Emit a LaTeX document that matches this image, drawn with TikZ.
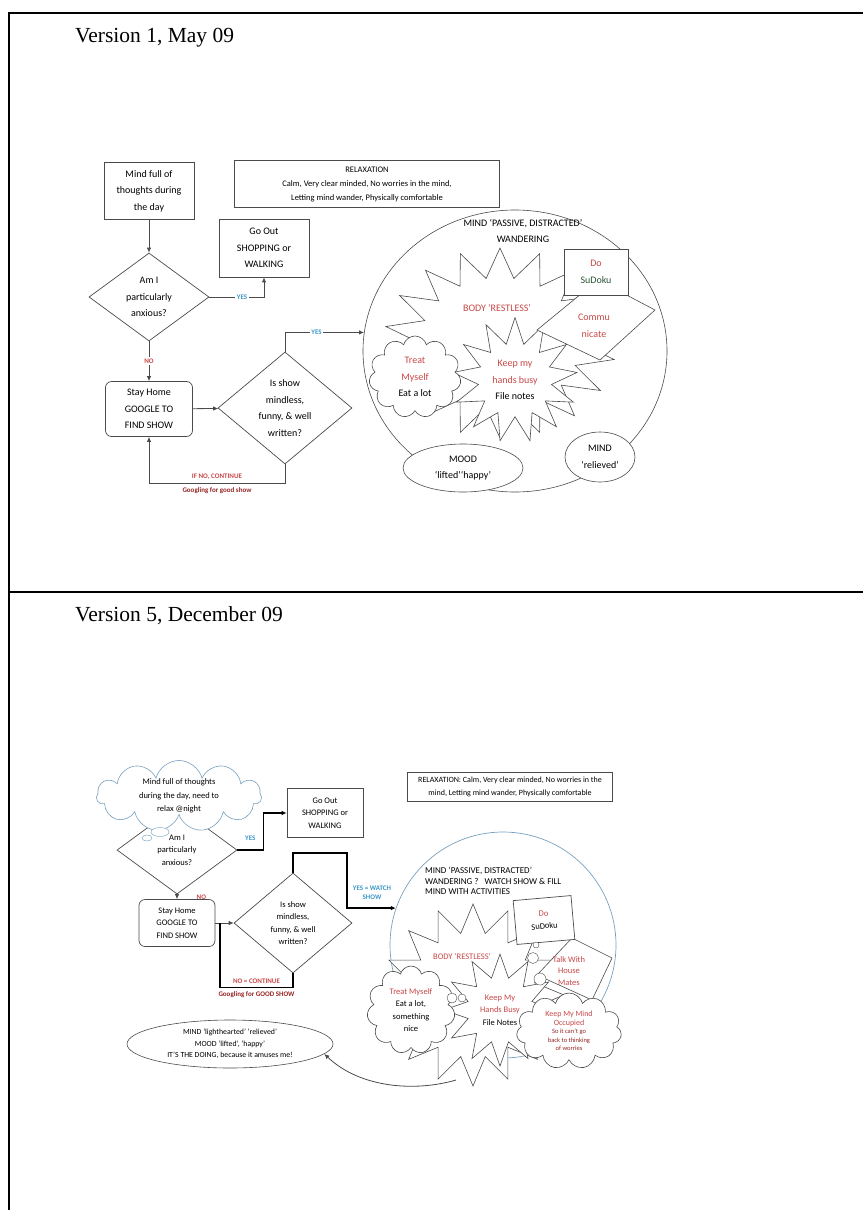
\documentclass[tikz,border=0pt]{standalone}
\usepackage{fontspec}
\setmainfont{Liberation Serif}
\newfontfamily\diafont{Carlito}
\usetikzlibrary{shapes.geometric,shapes.symbols,arrows.meta}

\definecolor{restred}{RGB}{200,72,72}
\definecolor{goodred}{RGB}{150,36,36}
\definecolor{yesblue}{RGB}{60,150,200}
\definecolor{ringblue}{RGB}{120,160,190}
\definecolor{linegray}{RGB}{75,75,75}
\definecolor{sudokugreen}{RGB}{45,85,55}

\newcommand{\onefont}{\diafont\fontsize{10}{16.5}\selectfont}
\newcommand{\fivefont}{\diafont\fontsize{8.5}{12.5}\selectfont}
\newcommand{\tagfont}{\diafont\bfseries\fontsize{7}{9}\selectfont}

\begin{document}
\begin{tikzpicture}[x=1pt,y=-1pt,
    flowbox/.style={draw=linegray, line width=0.7pt, fill=white, align=center, inner sep=1pt},
    roundbox/.style={flowbox, rounded corners=6pt},
    question/.style={draw=linegray, line width=0.7pt, fill=white, diamond, aspect=1.3, align=center, inner sep=0pt},
    puff/.style={draw=linegray, line width=0.6pt, fill=white, cloud, cloud puffs=11, cloud ignores aspect, align=center, inner sep=0pt},
    spiky/.style={draw=linegray, line width=0.6pt, fill=white, star, align=center, inner sep=0pt},
    oval/.style={draw=linegray, line width=0.6pt, fill=white, ellipse, align=center, inner sep=0pt},
    flow/.style={draw=linegray, line width=0.8pt, -{Latex[length=5pt,width=4.5pt]}},
    boldflow/.style={flow, draw=black, line width=1.3pt},
    tag/.style={fill=white, inner sep=1.5pt, font=\tagfont}]

\useasboundingbox (0,0) rectangle (863,1210);
% table frame
\draw[line width=1.5pt] (9,1210) -- (9,13) -- (863,13);
\draw[line width=1.5pt] (9,592) -- (863,592);
\node[anchor=base west, inner sep=0pt, font=\fontsize{21.5}{26}\selectfont] (head1) at (75,42) {Version 1, May 09};
\node[anchor=base west, inner sep=0pt, font=\fontsize{21.5}{26}\selectfont] (head5) at (75,621) {Version 5, December 09};

% ---------- version 1 ----------
\node[draw=linegray, line width=0.6pt, ellipse, minimum width=304, minimum height=282] (ring1) at (515,351) {};
\node[flowbox, font=\onefont, minimum width=90, minimum height=57] (mind1) at (149,191) {Mind full of\\thoughts during\\the day};
\node[flowbox, font=\diafont\fontsize{8.5}{14}\selectfont, minimum width=265, minimum height=47] (relax1) at (367,184) {RELAXATION\\Calm, Very clear minded, No worries in the mind,\\Letting mind wander, Physically comfortable};
\node[flowbox, font=\onefont, minimum width=90, minimum height=58] (goout1) at (264,248) {Go Out\\SHOPPING or\\WALKING};
\node[question, font=\onefont, minimum width=120, minimum height=88] (anxious1) at (149,297) {Am I\\particularly\\anxious?};
\node[roundbox, font=\onefont, minimum width=87, minimum height=55] (home1) at (149,409) {Stay Home\\GOOGLE TO\\FIND SHOW};
\node[question, font=\onefont, minimum width=134, minimum height=112] (show1) at (285,408) {Is show\\mindless,\\funny, \& well\\written?};

\node[font=\onefont, align=center] (passive1) at (523,231) {MIND ‘PASSIVE, DISTRACTED’\\WANDERING};
\begin{scope}[shift={(500,343)}, xscale=1.22]
  \node[spiky, star points=18, star point ratio=1.45, minimum size=190, transform shape] (restless1) at (0,0) {};
\end{scope}
\node[spiky, star points=13, star point ratio=1.7, minimum size=125, font=\onefont] (busy1) at (515,380) {\textcolor{restred}{Keep my}\\\textcolor{restred}{hands busy}\\File notes};
\node[font=\onefont, text=restred] (restlesstext1) at (497,308) {BODY ‘RESTLESS’};
\draw[draw=linegray, line width=0.6pt, fill=white] (537,330) -- (598,280) -- (655,310) -- (600,360) -- cycle;
\node[font=\onefont, text=restred, align=center] (talk1) at (594,326) {Commu\\nicate};
\node[flowbox, font=\onefont, minimum width=64, minimum height=46] (sudoku1) at (596,272) {\textcolor{restred}{Do}\\\textcolor{sudokugreen}{SuDoku}};
\node[puff, font=\onefont, minimum width=92, minimum height=82] (treat1) at (415,377) {\textcolor{restred}{Treat}\\\textcolor{restred}{Myself}\\Eat a lot};
\node[oval, font=\onefont, minimum width=120, minimum height=48] (mood1) at (463,468) {MOOD\\‘lifted’‘happy’};
\node[oval, font=\onefont, minimum width=70, minimum height=50] (relieved1) at (600,457) {MIND\\‘relieved’};

\draw[flow] (mind1) -- (anxious1);
\draw[flow] (anxious1.east) -| node[tag, text=yesblue, pos=0.3] {YES} (goout1.south);
\draw[flow] (anxious1) -- node[tag, text=restred] {NO} (home1);
\draw[flow] (home1) -- (show1);
\draw[flow] (show1.south) -- ++(0,19) -| node[pos=0.25, above, font=\tagfont, text=restred] {IF NO, CONTINUE} node[pos=0.25, below, font=\tagfont, text=goodred] {Googling for good show} (home1.south);
\draw[flow] (show1.north) |- node[tag, text=yesblue, pos=0.7] {YES} (ring1.173);

% ---------- version 5 ----------
\node[draw=ringblue, line width=0.7pt, ellipse, minimum width=226, minimum height=226] (ring5) at (503,945) {};
\node[flowbox, font=\diafont\fontsize{8}{13}\selectfont, minimum width=205, minimum height=29] (relax5) at (510,787) {RELAXATION: Calm, Very clear minded, No worries in the\\mind, Letting mind wander, Physically comfortable};
\node[question, font=\fivefont, minimum width=120, minimum height=88] (anxious5) at (177,850) {Am I\\particularly\\anxious?};
\node[puff, draw=ringblue, font=\diafont\fontsize{8.5}{13.5}\selectfont, minimum width=165, minimum height=70] (mind5) at (179,796) {Mind full of thoughts\\during the day, need to\\relax @night};
\draw[draw=ringblue, fill=white] (160,832) ellipse (9 and 4.5);
\draw[draw=ringblue, fill=white] (147,838) ellipse (5 and 3);
\node[flowbox, font=\fivefont, minimum width=76, minimum height=49] (goout5) at (325,813) {Go Out\\SHOPPING or\\WALKING};
\node[roundbox, font=\fivefont, minimum width=76, minimum height=47] (home5) at (177,923) {Stay Home\\GOOGLE TO\\FIND SHOW};
\node[question, font=\fivefont, minimum width=118, minimum height=100] (show5) at (293,923) {Is show\\mindless,\\funny, \& well\\written?};

\node[font=\diafont\fontsize{9}{10.5}\selectfont, align=left, anchor=north west, inner sep=0pt] (passive5) at (425,867) {MIND ‘PASSIVE, DISTRACTED’\\WANDERING ?\ \ \ WATCH SHOW \& FILL\\MIND WITH ACTIVITIES};
\node[spiky, star points=16, star point ratio=1.45, minimum size=182] (restless5) at (473,995) {};
\node[spiky, star points=12, star point ratio=1.7, minimum size=112, font=\fivefont] (busy5) at (500,1010) {\textcolor{restred}{Keep My}\\\textcolor{restred}{Hands Busy}\\File Notes};
\node[font=\fivefont, text=restred] (restlesstext5) at (462,956) {BODY ‘RESTLESS’};
\draw[draw=linegray, line width=0.6pt, fill=white] (537,975) -- (572,938) -- (612,958) -- (592,1000) -- cycle;
\node[font=\diafont\fontsize{8.5}{11.5}\selectfont, text=restred, align=center] (talktext5) at (569,971) {Talk With\\House\\Mates};
\node[flowbox, font=\fivefont, minimum width=58, minimum height=44, rotate=5] (sudoku5) at (544,920) {\textcolor{restred}{Do}\\SuDoku};
\draw[draw=linegray, fill=white] (536,945) circle (3);
\draw[draw=linegray, fill=white] (533,958) circle (5.5);
\draw[draw=linegray, fill=white] (540,979) circle (6);
\node[puff, font=\fivefont, minimum width=88, minimum height=88] (treat5) at (411,1010) {\textcolor{restred}{Treat Myself}\\Eat a lot,\\something\\nice};
\draw[draw=linegray, fill=white] (452,998) circle (5);
\draw[draw=linegray, fill=white] (462,998) circle (4);
\node[puff, font=\diafont\fontsize{6.5}{8.5}\selectfont, minimum width=105, minimum height=76] (occupied5) at (569,1031) {\textcolor{restred}{\fontsize{8}{10}\selectfont Keep My Mind}\\\textcolor{restred}{\fontsize{8}{10}\selectfont Occupied}\\\textcolor{goodred}{So it can’t go}\\\textcolor{goodred}{back to thinking}\\\textcolor{goodred}{of worries}};
\node[oval, font=\diafont\fontsize{7.8}{11.5}\selectfont, minimum width=206, minimum height=48] (amused5) at (230,1044) {MIND ‘lighthearted’ ‘relieved’\\MOOD ‘lifted’, ‘happy’\\IT’S THE DOING, because it amuses me!};

\draw[boldflow] (anxious5.east) -- node[above=5pt, font=\tagfont, text=yesblue] {YES} ++(26,0) |- (goout5.west);
\draw[flow] (anxious5) -- node[right=16pt, font=\tagfont, text=restred] {NO} (home5);
\draw[flow] (home5) -- (show5);
\coordinate (join5) at (220,923);
\draw[boldflow, -] (show5.south) -- ++(0,14) -| node[pos=0.25, above, font=\tagfont, text=restred] {NO = CONTINUE} node[pos=0.25, below, font=\tagfont, text=goodred] {Googling for GOOD SHOW} (join5);
\coordinate (watch5) at (347,853);
\draw[boldflow] (show5.north) |- (watch5) |- (ring5.161);
\node[font=\tagfont, text=yesblue, align=center] (watchtag5) at (372,893) {YES = WATCH\\SHOW};
\coordinate (doing5) at (456,1080);
\draw[flow] (doing5) .. controls (415,1092) and (360,1088) .. (amused5.-6);
\end{tikzpicture}
\end{document}
